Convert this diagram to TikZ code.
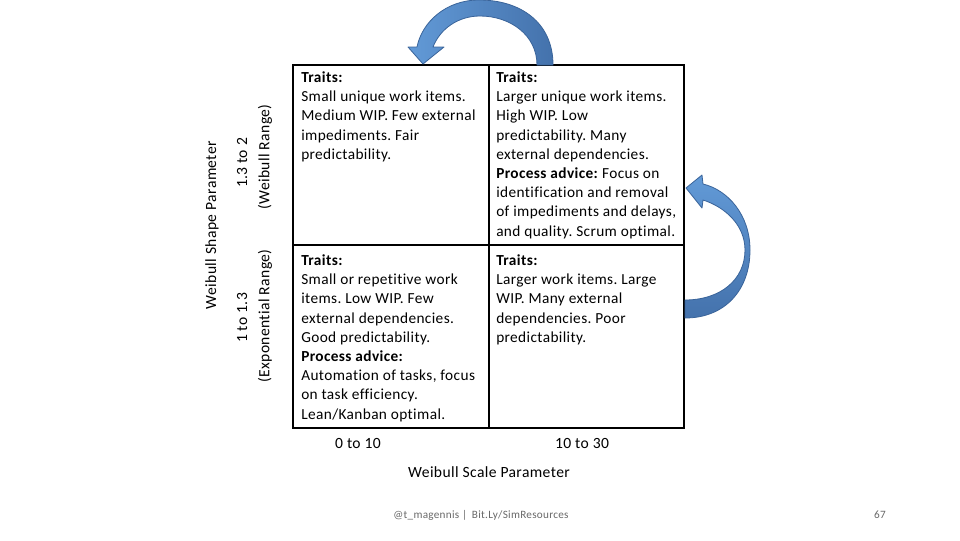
\documentclass[tikz,border=0pt]{standalone}
\usepackage{fontspec}
\setmainfont{Carlito}[LetterSpace=2.5, Ligatures=CommonOff]
\frenchspacing
\usetikzlibrary{positioning}

\definecolor{arrowlight}{RGB}{98,154,215}
\definecolor{arrowdark}{RGB}{68,114,172}
\definecolor{arrowedge}{RGB}{58,100,154}
\definecolor{footgray}{RGB}{105,105,105}

\tikzset{
    celltext/.style={anchor=north west, inner sep=0pt, align=left,
        font=\fontsize{11.5}{14.4}\selectfont},
    axislabel/.style={inner sep=0pt, font=\fontsize{11.7}{14}\selectfont},
    blockarrow/.style={draw=arrowedge, line width=0.6pt, line join=round},
}

\begin{document}
\begin{tikzpicture}[x=0.75pt,y=-0.75pt]
            \useasboundingbox[fill=white] (0,0) rectangle (960,540);

            % grid
            \draw[line width=1.5pt] (293,65) rectangle (684,428);
            \draw[line width=1.5pt] (489,65) -- (489,428);
            \draw[line width=1.5pt] (293,245) -- (684,245);

            % cells
            \node[celltext] (smallunique) at (301,71.5)
                {\textbf{Traits:}\\Small unique work items.\\Medium WIP. Few external\\impediments. Fair\\predictability.};
            \node[celltext] (largeunique) at (496,71.5)
                {\textbf{Traits:}\\Larger unique work items.\\High WIP. Low\\predictability. Many\\external dependencies.\\\textbf{Process advice:} Focus on\\identification and removal\\of impediments and delays,\\and quality. Scrum optimal.};
            \node[celltext] (smallrepeat) at (301,254.5)
                {\textbf{Traits:}\\Small or repetitive work\\items. Low WIP. Few\\external dependencies.\\Good predictability.\\\textbf{Process advice:}\\Automation of tasks, focus\\on task efficiency.\\Lean/Kanban optimal.};
            \node[celltext] (largework) at (496,254.5)
                {\textbf{Traits:}\\Larger work items. Large\\WIP. Many external\\dependencies. Poor\\predictability.};

            % shape parameter
            \node[axislabel, rotate=90] (shape) at (212,225) {Weibull Shape Parameter};
            \node[axislabel, rotate=90] (highshape) at (242,163) {1.3 to 2};
            \node[axislabel, rotate=90] (weibullrange) at (265,157) {(Weibull Range)};
            \node[axislabel, rotate=90] (lowshape) at (242,318) {1 to 1.3};
            \node[axislabel, rotate=90] (exprange) at (265,316) {(Exponential Range)};

            % scale parameter
            \node[axislabel] (lowscale) at (358,443) {0 to 10};
            \node[axislabel] (highscale) at (582,443) {10 to 30};
            \node[axislabel] (scale) at (489,472) {Weibull Scale Parameter};

            % footer
            \node[inner sep=0pt, text=footgray, font=\fontsize{8.4}{10}\selectfont] (footer) at (481,515)
                {@t\_magennis |\, Bit.Ly/SimResources};
            \node[inner sep=0pt, text=footgray, font=\fontsize{8.4}{10}\selectfont] (pagenum) at (880,515) {67};

            % arrows
            \shadedraw[blockarrow, left color=arrowlight, right color=arrowdark]
                (537,65) -- (553,65)
                .. controls (553,22) and (520,0) .. (479,0)
                .. controls (446,0) and (422,22) .. (417,47)
                -- (408,47) -- (423,64) -- (444,47) -- (433,47)
                .. controls (440,29) and (458,16) .. (480,16)
                .. controls (510,16) and (537,35) .. (537,65) -- cycle;

            \shadedraw[blockarrow, top color=arrowlight, bottom color=arrowdark]
                (685,318)
                .. controls (725,318) and (750,290) .. (750,250)
                .. controls (750,215) and (728,190) .. (703,184)
                -- (702,175) -- (686,188) -- (702,208) -- (703,200)
                .. controls (725,207) and (745,225) .. (745,250)
                .. controls (745,280) and (720,300) .. (685,300) -- cycle;
\end{tikzpicture}
\end{document}
